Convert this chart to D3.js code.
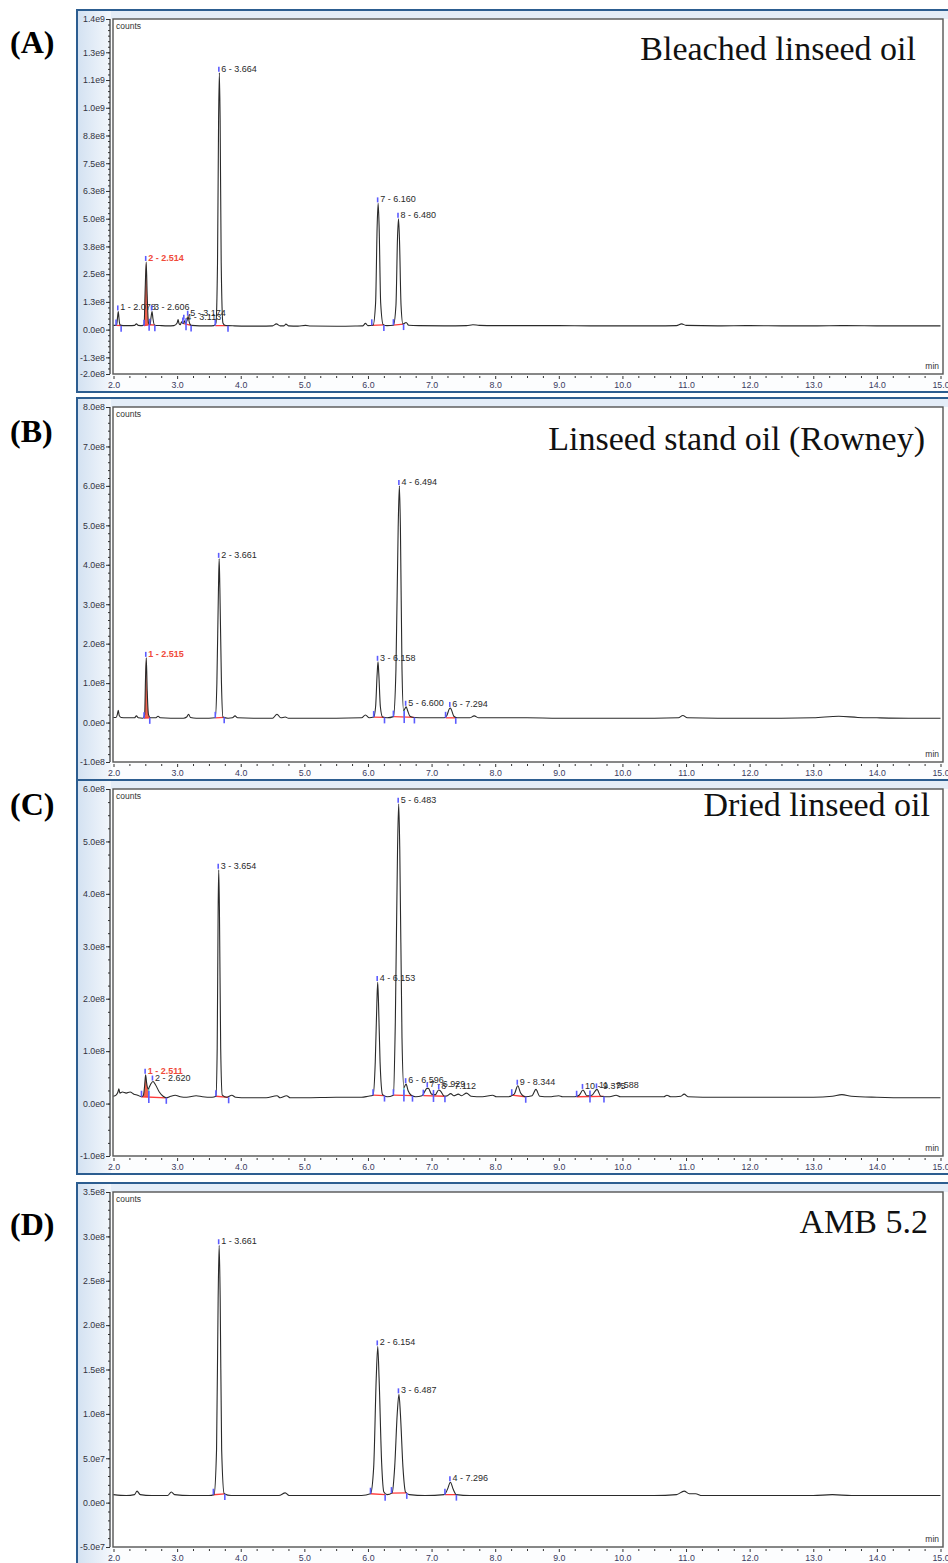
<!DOCTYPE html>
<html>
<head>
<meta charset="utf-8">
<script src="https://cdn.jsdelivr.net/npm/d3@7"></script>
<style>
  body { margin: 0; background: #fff; }
  svg { display: block; }
</style>
</head>
<body>
<div id="chart"></div>
<script>
// panel texts
const panelLetters = ['(A)', '(B)', '(C)', '(D)'];
const panelTitles = ['Bleached linseed oil', 'Linseed stand oil (Rowney)', 'Dried linseed oil', 'AMB 5.2'];

// x axis (min)
const xTicks = [2, 3, 4, 5, 6, 7, 8, 9, 10, 11, 12, 13, 14, 15];
const xTickLabels = ['2.0', '3.0', '4.0', '5.0', '6.0', '7.0', '8.0', '9.0', '10.0', '11.0', '12.0', '13.0', '14.0', '15.0'];

// y axes (counts)
const yTicksA = [-2e8, -1.25e8, 0, 1.25e8, 2.5e8, 3.75e8, 5e8, 6.25e8, 7.5e8, 8.75e8, 1e9, 1.125e9, 1.25e9, 1.4e9];
const yLabelsA = ['-2.0e8', '-1.3e8', '0.0e0', '1.3e8', '2.5e8', '3.8e8', '5.0e8', '6.3e8', '7.5e8', '8.8e8', '1.0e9', '1.1e9', '1.3e9', '1.4e9'];
const yTicksB = [-1e8, 0, 1e8, 2e8, 3e8, 4e8, 5e8, 6e8, 7e8, 8e8];
const yLabelsB = ['-1.0e8', '0.0e0', '1.0e8', '2.0e8', '3.0e8', '4.0e8', '5.0e8', '6.0e8', '7.0e8', '8.0e8'];
const yTicksC = [-1e8, 0, 1e8, 2e8, 3e8, 4e8, 5e8, 6e8];
const yLabelsC = ['-1.0e8', '0.0e0', '1.0e8', '2.0e8', '3.0e8', '4.0e8', '5.0e8', '6.0e8'];
const yTicksD = [-5e7, 0, 5e7, 1e8, 1.5e8, 2e8, 2.5e8, 3e8, 3.5e8];
const yLabelsD = ['-5.0e7', '0.0e0', '5.0e7', '1.0e8', '1.5e8', '2.0e8', '2.5e8', '3.0e8', '3.5e8'];

// chromatogram traces: [retention time (min), counts x1e6]
const traceA = [
  [2.00, 20], [2.03, 19], [2.05, 24], [2.065, 60], [2.075, 82], [2.085, 55], [2.10, 22], [2.15, 18],
  [2.25, 18], [2.33, 19], [2.36, 26], [2.39, 19], [2.45, 18], [2.48, 22], [2.50, 200], [2.514, 305],
  [2.53, 150], [2.55, 30], [2.575, 22], [2.59, 55], [2.606, 82], [2.62, 50], [2.645, 20], [2.75, 18],
  [2.85, 17], [2.95, 18], [3.00, 30], [3.015, 45], [3.03, 28], [3.05, 22], [3.07, 35], [3.085, 30],
  [3.10, 28], [3.113, 40], [3.13, 30], [3.155, 40], [3.174, 58], [3.19, 35], [3.22, 19], [3.35, 17],
  [3.50, 17], [3.58, 18], [3.61, 30], [3.635, 300], [3.652, 950], [3.664, 1158], [3.676, 950],
  [3.693, 300], [3.72, 30], [3.75, 20], [3.80, 18], [3.90, 17], [4.10, 16], [4.30, 16], [4.50, 17],
  [4.56, 26], [4.62, 17], [4.68, 17], [4.71, 25], [4.75, 17], [4.90, 16], [5.02, 19], [5.10, 16],
  [5.50, 15], [5.80, 16], [5.92, 17], [5.96, 28], [6.00, 18], [6.08, 20], [6.12, 120], [6.145, 470],
  [6.16, 569], [6.175, 470], [6.20, 120], [6.24, 22], [6.30, 18], [6.40, 20], [6.44, 110], [6.465, 420],
  [6.48, 500], [6.495, 410], [6.52, 110], [6.55, 25], [6.60, 32], [6.64, 20], [6.80, 18], [7.20, 17],
  [7.55, 18], [7.65, 22], [7.75, 19], [8.00, 18], [8.50, 18], [9.00, 18], [9.50, 17], [10.00, 17],
  [10.50, 17], [10.85, 18], [10.93, 26], [11.00, 19], [11.50, 17], [12.00, 18], [12.50, 17],
  [13.00, 17], [13.50, 18], [14.00, 17], [14.50, 17], [15.00, 17]
];
const traceB = [
  [2.00, 13], [2.04, 13], [2.06, 20], [2.075, 31], [2.09, 18], [2.12, 13], [2.20, 12], [2.33, 12],
  [2.36, 17], [2.39, 12], [2.46, 11], [2.49, 20], [2.503, 110], [2.515, 164], [2.53, 80], [2.55, 20],
  [2.58, 12], [2.66, 12], [2.70, 16], [2.74, 12], [2.90, 11], [3.10, 11], [3.15, 14], [3.18, 21],
  [3.21, 13], [3.30, 11], [3.50, 11], [3.60, 12], [3.625, 100], [3.65, 340], [3.661, 415],
  [3.672, 340], [3.697, 100], [3.72, 14], [3.80, 11], [3.87, 12], [3.91, 17], [3.95, 12], [4.20, 11],
  [4.50, 11], [4.57, 21], [4.63, 12], [4.70, 14], [4.75, 11], [5.00, 11], [5.50, 11], [5.90, 12],
  [5.96, 19], [6.02, 12], [6.09, 14], [6.12, 40], [6.145, 125], [6.158, 154], [6.17, 125], [6.195, 40],
  [6.23, 14], [6.30, 12], [6.40, 15], [6.44, 135], [6.475, 495], [6.494, 600], [6.51, 495],
  [6.535, 135], [6.56, 30], [6.58, 35], [6.60, 40], [6.62, 32], [6.66, 16], [6.72, 13], [6.90, 12],
  [7.20, 12], [7.24, 18], [7.28, 35], [7.294, 37], [7.31, 33], [7.35, 16], [7.40, 12], [7.60, 12],
  [7.67, 17], [7.74, 12], [8.00, 12], [8.50, 12], [9.00, 11], [9.50, 11], [10.00, 11], [10.50, 11],
  [10.88, 12], [10.95, 18], [11.02, 12], [11.50, 11], [12.00, 11], [12.50, 11], [13.00, 12],
  [13.40, 16], [13.70, 13], [14.00, 12], [14.50, 11], [15.00, 11]
];
const traceC = [
  [2.00, 14], [2.04, 16], [2.07, 22], [2.085, 28], [2.10, 20], [2.14, 22], [2.20, 20], [2.26, 22],
  [2.32, 18], [2.38, 16], [2.44, 13], [2.47, 16], [2.49, 35], [2.505, 55], [2.52, 40], [2.545, 28],
  [2.58, 36], [2.62, 42], [2.66, 36], [2.72, 22], [2.78, 14], [2.83, 11], [2.90, 14], [2.97, 16],
  [3.05, 13], [3.15, 12], [3.30, 15], [3.40, 13], [3.55, 12], [3.61, 14], [3.63, 105], [3.645, 370],
  [3.654, 446], [3.665, 370], [3.685, 105], [3.71, 16], [3.78, 12], [3.86, 16], [3.92, 12],
  [4.10, 11], [4.40, 11], [4.57, 15], [4.62, 11], [4.72, 15], [4.78, 11], [5.00, 11], [5.50, 12],
  [5.90, 12], [6.00, 14], [6.08, 16], [6.115, 80], [6.14, 192], [6.153, 232], [6.166, 192],
  [6.19, 80], [6.23, 17], [6.30, 13], [6.40, 16], [6.43, 155], [6.465, 485], [6.483, 572],
  [6.50, 485], [6.535, 125], [6.565, 30], [6.585, 35], [6.60, 37], [6.63, 25], [6.68, 16],
  [6.75, 13], [6.85, 15], [6.93, 29], [6.95, 29], [7.00, 18], [7.06, 17], [7.11, 26], [7.14, 24],
  [7.20, 14], [7.25, 15], [7.30, 19], [7.35, 15], [7.42, 18], [7.47, 15], [7.55, 20], [7.62, 14],
  [7.80, 13], [7.96, 16], [8.02, 13], [8.20, 13], [8.30, 18], [8.355, 34], [8.40, 20], [8.47, 13],
  [8.58, 15], [8.64, 27], [8.70, 14], [8.85, 13], [9.00, 15], [9.06, 13], [9.25, 13], [9.32, 16],
  [9.38, 26], [9.44, 15], [9.52, 16], [9.60, 27], [9.66, 14], [9.80, 13], [9.90, 16], [9.97, 13],
  [10.30, 13], [10.65, 13], [10.70, 16], [10.76, 13], [10.92, 14], [10.97, 18], [11.03, 13],
  [11.50, 12], [12.00, 12], [12.50, 12], [13.00, 12], [13.30, 14], [13.45, 17], [13.60, 14],
  [14.00, 12], [14.50, 11], [15.00, 11]
];
const traceD = [
  [2.00, 9], [2.20, 8], [2.33, 9], [2.37, 13], [2.42, 9], [2.60, 8], [2.85, 8], [2.91, 12],
  [2.96, 9], [3.20, 8], [3.50, 8], [3.58, 9], [3.62, 60], [3.645, 230], [3.661, 290], [3.677, 230],
  [3.70, 60], [3.74, 10], [3.85, 8], [4.20, 8], [4.60, 8], [4.70, 11], [4.76, 8], [5.20, 8],
  [5.60, 8], [5.90, 8], [6.04, 10], [6.09, 40], [6.13, 140], [6.154, 176], [6.175, 140],
  [6.215, 45], [6.25, 12], [6.30, 9], [6.38, 11], [6.42, 40], [6.46, 100], [6.487, 122],
  [6.51, 100], [6.55, 40], [6.59, 12], [6.65, 9], [6.90, 8], [7.20, 9], [7.25, 15], [7.296, 23],
  [7.34, 15], [7.39, 9], [7.60, 8], [8.00, 8], [8.50, 8], [9.00, 8], [9.50, 8], [10.00, 8],
  [10.50, 8], [10.85, 9], [10.97, 13], [11.05, 10], [11.15, 10], [11.25, 8], [11.80, 8],
  [12.30, 8], [13.00, 8], [13.30, 9], [13.60, 8], [14.00, 8], [14.50, 8], [15.00, 8]
];

// integrated peaks: [label, apex time, start, end] (min)
const peaksA = [
  ['1 - 2.078', 2.075, 2.04, 2.12], ['2 - 2.514', 2.514, 2.48, 2.56], ['3 - 2.606', 2.606, 2.57, 2.65],
  ['4 - 3.113', 3.113, 3.09, 3.14], ['5 - 3.174', 3.174, 3.14, 3.22], ['6 - 3.664', 3.664, 3.60, 3.80],
  ['7 - 6.160', 6.16, 6.06, 6.25], ['8 - 6.480', 6.48, 6.40, 6.56]
];
const peaksB = [
  ['1 - 2.515', 2.515, 2.48, 2.57], ['2 - 3.661', 3.661, 3.60, 3.74], ['3 - 6.158', 6.158, 6.09, 6.26],
  ['4 - 6.494', 6.494, 6.40, 6.57], ['5 - 6.600', 6.60, 6.57, 6.73], ['6 - 7.294', 7.294, 7.22, 7.38]
];
const peaksC = [
  ['1 - 2.511', 2.505, 2.44, 2.555], ['2 - 2.620', 2.62, 2.555, 2.83], ['3 - 3.654', 3.654, 3.61, 3.81],
  ['4 - 6.153', 6.153, 6.08, 6.26], ['5 - 6.483', 6.483, 6.40, 6.565], ['6 - 6.596', 6.60, 6.565, 6.70],
  ['7 - 6.929', 6.94, 6.87, 7.03], ['8 - 7.112', 7.12, 7.03, 7.21], ['9 - 8.344', 8.355, 8.26, 8.48],
  ['10 - 9.375', 9.38, 9.28, 9.49], ['11 - 9.588', 9.60, 9.49, 9.71]
];
const peaksD = [
  ['1 - 3.661', 3.661, 3.57, 3.75], ['2 - 6.154', 6.154, 6.04, 6.27], ['3 - 6.487', 6.487, 6.37, 6.61],
  ['4 - 7.296', 7.296, 7.21, 7.39]
];
const selectedPeak = [1, 0, 0, -1]; // highlighted (red) peak index per panel

const W = 948, H = 1563;
const PLOT_LEFT = 113, PLOT_RIGHT = 943;
const FRAME_TOPS = [10, 398, 780, 1183];
const PLOT_HS = [355, 355, 367, 355];
const LETTER_Y = [53, 442, 815, 1235];
const TITLE_Y = [60, 450, 816, 1233];
const TITLE_END = [916, 925, 930, 928];
const SANS = '"Liberation Sans", Arial, sans-serif';
const SERIF = '"Liberation Serif", "Times New Roman", serif';

const panels = [
  { trace: traceA, peaks: peaksA, yTicks: yTicksA, yLabels: yLabelsA, minor: 2.5e7 },
  { trace: traceB, peaks: peaksB, yTicks: yTicksB, yLabels: yLabelsB, minor: 2e7 },
  { trace: traceC, peaks: peaksC, yTicks: yTicksC, yLabels: yLabelsC, minor: 2.5e7 },
  { trace: traceD, peaks: peaksD, yTicks: yTicksD, yLabels: yLabelsD, minor: 1e7 }
];

const svg = d3.select('#chart')
  .append('svg')
    .attr('width', W)
    .attr('height', H);

const grad = svg.append('defs').append('linearGradient')
  .attr('id', 'band')
  .attr('x1', 0).attr('x2', 1).attr('y1', 0).attr('y2', 0);
grad.append('stop').attr('offset', 0).attr('stop-color', '#d4e2f2');
grad.append('stop').attr('offset', 1).attr('stop-color', '#f3f7fc');

const x = d3.scaleLinear().domain([2, 15]).range([113.5, 940.5]);

// linear value of a trace at time t
function traceAt(tr, t) {
  const i = d3.bisector(d => d[0]).left(tr, t);
  if (i <= 0) return tr[0][1];
  if (i >= tr.length) return tr[tr.length - 1][1];
  const a = tr[i - 1], b = tr[i];
  return a[1] + (b[1] - a[1]) * (t - a[0]) / (b[0] - a[0]);
}

// baseline level near a peak boundary (lowest nearby point)
function footAt(tr, t) {
  const near = tr.filter(d => Math.abs(d[0] - t) <= 0.04).map(d => d[1]);
  return d3.min([traceAt(tr, t)].concat(near));
}

// join touching peaks into groups that share one integration baseline
function peakGroups(peaks) {
  const groups = [];
  peaks.forEach((pk, k) => {
    const last = groups[groups.length - 1];
    if (last && last.end === pk[2]) { last.end = pk[3]; last.members.push(k); }
    else groups.push({ start: pk[2], end: pk[3], members: [k] });
  });
  return groups;
}

panels.forEach((p, i) => {
  const top = FRAME_TOPS[i];
  const plotTop = top + 9;
  const plotBottom = plotTop + PLOT_HS[i];
  const frameBottom = plotBottom + 18;
  const g = svg.append('g');

  const y = d3.scaleLinear()
    .domain(d3.extent(p.yTicks))
    .range([plotBottom, plotTop]);
  const yv = v => y(v * 1e6);

  // window frame
  g.append('rect')
    .attr('x', 77).attr('y', top)
    .attr('width', 900).attr('height', frameBottom - top)
    .attr('fill', '#fcfdfe')
    .attr('stroke', '#2c5d90').attr('stroke-width', 2);
  g.append('rect')
    .attr('x', 78).attr('y', top + 1)
    .attr('width', 33).attr('height', frameBottom - top - 2)
    .attr('fill', 'url(#band)');
  g.append('rect')
    .attr('x', 111).attr('y', top + 1)
    .attr('width', 850).attr('height', 8)
    .attr('fill', '#e4edf8');
  g.append('rect')
    .attr('x', PLOT_LEFT).attr('y', plotTop)
    .attr('width', PLOT_RIGHT - PLOT_LEFT).attr('height', plotBottom - plotTop)
    .attr('fill', '#fff')
    .attr('stroke', '#555').attr('stroke-width', 1.4);

  // y axis
  const yMinor = d3.range(p.yTicks[0], p.yTicks[p.yTicks.length - 1] + 1, p.minor);
  g.append('g')
    .attr('transform', 'translate(110,0)')
    .call(d3.axisLeft(y).tickValues(yMinor).tickSize(2).tickFormat(''))
    .call(a => a.select('.domain').remove());
  const yAxis = g.append('g')
    .attr('transform', 'translate(110,0)')
    .call(d3.axisLeft(y).tickValues(p.yTicks).tickSize(4).tickPadding(1)
      .tickFormat((d, k) => p.yLabels[k]));
  yAxis.select('.domain').remove();
  yAxis.selectAll('text')
    .attr('font-family', SANS).attr('font-size', 8.8).attr('fill', '#333340');
  g.append('line')
    .attr('x1', 110).attr('x2', 110)
    .attr('y1', plotTop).attr('y2', plotBottom)
    .attr('stroke', '#333').attr('stroke-width', 1.2);

  // x axis
  const xMinor = d3.range(2, 15.01, 0.25).filter(t => t % 1 !== 0);
  g.append('g')
    .attr('transform', `translate(0, ${plotBottom + 2})`)
    .call(d3.axisBottom(x).tickValues(xMinor).tickSize(2).tickFormat(''))
    .call(a => a.select('.domain').remove());
  const xAxis = g.append('g')
    .attr('transform', `translate(0, ${plotBottom + 2})`)
    .call(d3.axisBottom(x).tickValues(xTicks).tickSize(3).tickPadding(3)
      .tickFormat((d, k) => xTickLabels[k]));
  xAxis.select('.domain').remove();
  xAxis.selectAll('text')
    .attr('font-family', SANS).attr('font-size', 8.8).attr('fill', '#3a3a60');
  g.selectAll('.tick line').attr('stroke', '#333');

  g.append('text')
    .attr('x', PLOT_LEFT + 3).attr('y', plotTop + 10)
    .attr('font-family', SANS).attr('font-size', 8.5).attr('fill', '#333')
    .text('counts');
  g.append('text')
    .attr('x', PLOT_RIGHT - 4).attr('y', plotBottom - 5)
    .attr('text-anchor', 'end')
    .attr('font-family', SANS).attr('font-size', 8.5).attr('fill', '#333')
    .text('min');

  // integration baselines per group of touching peaks
  const groups = peakGroups(p.peaks);
  const baseOf = [];
  groups.forEach(gr => {
    const bs = footAt(p.trace, gr.start), be = footAt(p.trace, gr.end);
    const base = t => bs + (be - bs) * (t - gr.start) / (gr.end - gr.start);
    gr.members.forEach(k => { baseOf[k] = base; });
    gr.base = base;
  });

  // highlighted peak fill
  const sel = selectedPeak[i];
  if (sel >= 0) {
    const [, , s, e] = p.peaks[sel];
    const base = baseOf[sel];
    const pts = [[s, traceAt(p.trace, s)]]
      .concat(p.trace.filter(d => d[0] > s && d[0] < e), [[e, traceAt(p.trace, e)]]);
    g.append('path')
      .datum(pts)
      .attr('fill', '#f2624f')
      .attr('d', d3.area()
        .x(d => x(d[0]))
        .y0(d => yv(base(d[0])))
        .y1(d => yv(Math.max(d[1], base(d[0]))))
        .curve(d3.curveMonotoneX));
  }

  groups.forEach(gr => {
    g.append('line')
      .attr('x1', x(gr.start)).attr('y1', yv(gr.base(gr.start)))
      .attr('x2', x(gr.end)).attr('y2', yv(gr.base(gr.end)))
      .attr('stroke', '#ff3b3b').attr('stroke-width', 1.3);
    // drop lines between touching peaks
    gr.members.slice(1).forEach(k => {
      const t = p.peaks[k][2];
      g.append('line')
        .attr('x1', x(t)).attr('x2', x(t))
        .attr('y1', yv(traceAt(p.trace, t))).attr('y2', yv(gr.base(t)))
        .attr('stroke', '#3fd3d3').attr('stroke-width', 1.2);
    });
  });

  // trace
  g.append('path')
    .datum(p.trace)
    .attr('fill', 'none')
    .attr('stroke', '#2a2a2a')
    .attr('stroke-width', 1.1)
    .attr('d', d3.line()
      .x(d => x(d[0]))
      .y(d => yv(d[1]))
      .curve(d3.curveMonotoneX));

  // start / end markers
  p.peaks.forEach(([, , s, e], k) => {
    const ys = yv(baseOf[k](s)), ye = yv(baseOf[k](e));
    g.append('line')
      .attr('x1', x(s)).attr('x2', x(s)).attr('y1', ys - 6).attr('y2', ys)
      .attr('stroke', '#5c5cff').attr('stroke-width', 1.6);
    g.append('line')
      .attr('x1', x(e)).attr('x2', x(e)).attr('y1', ye).attr('y2', ye + 6)
      .attr('stroke', '#5c5cff').attr('stroke-width', 1.6);
  });

  // apex labels
  p.peaks.forEach(([label, t], k) => {
    const ax = x(t), ay = yv(traceAt(p.trace, t));
    g.append('line')
      .attr('x1', ax - 0.5).attr('x2', ax - 0.5).attr('y1', ay - 6).attr('y2', ay - 1)
      .attr('stroke', '#5c5cff').attr('stroke-width', 1.6);
    g.append('text')
      .attr('x', ax + 2).attr('y', ay - 1)
      .attr('font-family', SANS).attr('font-size', 9)
      .attr('fill', k === sel ? '#f04a3a' : '#2a2a2a')
      .attr('font-weight', k === sel ? 'bold' : 'normal')
      .text(label);
  });

  // panel letter and sample name
  svg.append('text')
    .attr('x', 10).attr('y', LETTER_Y[i])
    .attr('font-family', SERIF).attr('font-size', 32).attr('font-weight', 'bold')
    .text(panelLetters[i]);
  g.append('text')
    .attr('x', TITLE_END[i]).attr('y', TITLE_Y[i])
    .attr('text-anchor', 'end')
    .attr('font-family', SERIF).attr('font-size', 34).attr('fill', '#111')
    .text(panelTitles[i]);
});
</script>
</body>
</html>
